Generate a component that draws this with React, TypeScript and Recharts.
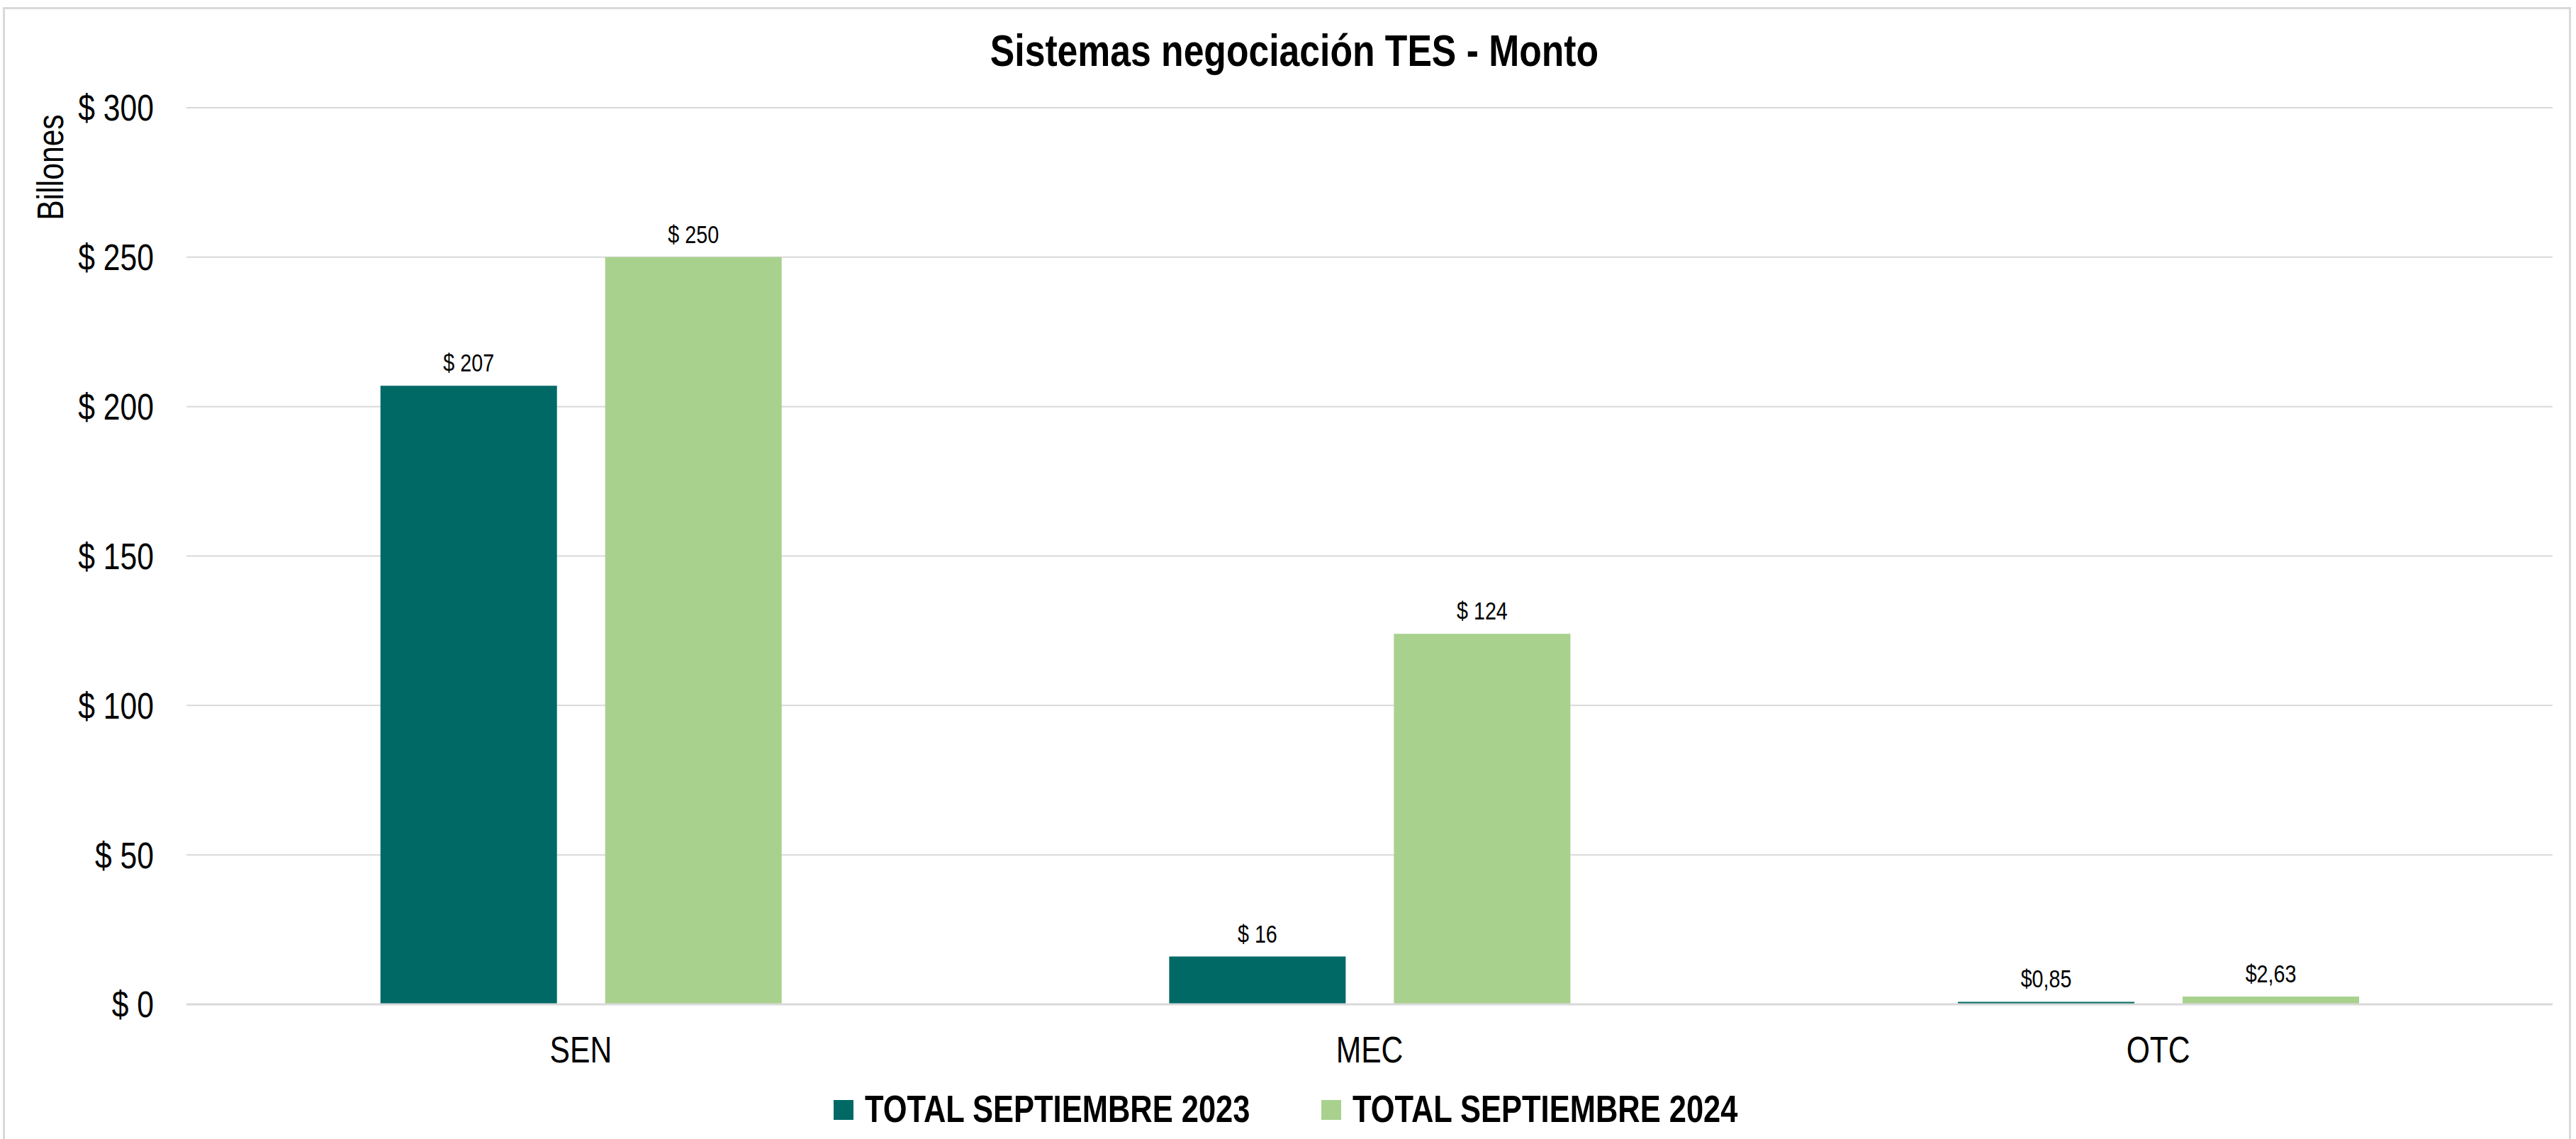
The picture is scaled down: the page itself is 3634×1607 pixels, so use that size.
import {
  BarChart,
  Bar,
  XAxis,
  YAxis,
  CartesianGrid,
  LabelList,
  Legend,
} from "recharts"

// Datos del gráfico (billones de pesos)
const categorias = ["SEN", "MEC", "OTC"]
const total2023 = [207, 16, 0.85]
const total2024 = [250, 124, 2.63]
const etiquetas2023 = ["$ 207", "$ 16", "$0,85"]
const etiquetas2024 = ["$ 250", "$ 124", "$2,63"]
const ticksY = [0, 50, 100, 150, 200, 250, 300]
const nombreSerie2023 = "TOTAL SEPTIEMBRE 2023"
const nombreSerie2024 = "TOTAL SEPTIEMBRE 2024"

const data = categorias.map((c, i) => ({
  sistema: c,
  t2023: total2023[i],
  t2024: total2024[i],
  e2023: etiquetas2023[i],
  e2024: etiquetas2024[i],
}))

// no hay Arial Narrow instalada: se angosta la Liberation Sans
const FUENTE = '"Liberation Sans", Arial, sans-serif'
const ANGOSTO = 0.82
const VERDE_OSCURO = "#006966"
const VERDE_CLARO = "#A9D18E"
const GRIS = "#d9d9d9"

const TextoAngosto = ({ x, y, texto, size, anchor = "middle", dy = "0", bold = false }: any) => (
  <text
    transform={`translate(${x},${y}) scale(${ANGOSTO},1)`}
    textAnchor={anchor}
    dy={dy}
    fontSize={size}
    fontWeight={bold ? "bold" : "normal"}
    fontFamily={FUENTE}
    fill="#000"
  >
    {texto}
  </text>
)

const TickY = ({ x, y, payload }: any) => (
  <TextoAngosto x={x} y={y} texto={`$ ${payload.value}`} size={52} anchor="end" dy="0.355em" />
)

const TickX = ({ x, y, payload }: any) => (
  <TextoAngosto x={x} y={y} texto={payload.value} size={52} anchor="middle" dy="0.71em" />
)

const EtiquetaBarra = (props: any) => {
  const vb = props.viewBox || props
  return <TextoAngosto x={vb.x + vb.width / 2} y={vb.y - 20} texto={props.value} size={35} />
}

const Leyenda = ({ payload }: any) => (
  <div style={{ display: "flex", justifyContent: "center", alignItems: "flex-start", fontFamily: FUENTE }}>
    {(payload || []).map((entry: any, index: number) => (
      <div key={index} style={{ display: "flex", alignItems: "flex-start", marginRight: index === 0 ? 94 : 0 }}>
        <div style={{ width: 28, height: 28, background: entry.color, marginTop: 14, marginRight: 16 }} />
        <div style={{ width: 550, overflow: "visible" }}>
          <span
            style={{
              display: "inline-block",
              whiteSpace: "nowrap",
              fontSize: 53,
              fontWeight: "bold",
              lineHeight: "53px",
              color: "#000",
              transform: `scaleX(${ANGOSTO})`,
              transformOrigin: "left center",
            }}
          >
            {entry.value}
          </span>
        </div>
      </div>
    ))}
  </div>
)

const EtiquetaEje = ({ viewBox }: any) => {
  const cy = (viewBox?.y ?? 152) + 84
  return (
    <text
      transform={`translate(89,${cy}) rotate(-90) scale(${ANGOSTO},1)`}
      textAnchor="middle"
      fontSize={52}
      fontFamily={FUENTE}
      fill="#000"
    >
      Billones
    </text>
  )
}

export default function App() {
  return (
    <div style={{ position: "absolute", left: 0, top: 0, width: 3634, height: 1607, overflow: "hidden", background: "#fff" }}>
      <div
        style={{
          position: "absolute",
          left: 4,
          top: 10,
          width: 3623,
          height: 1620,
          border: `3px solid ${GRIS}`,
          boxSizing: "border-box",
        }}
      />
      <div
        style={{
          position: "absolute",
          left: 1826,
          top: 40,
          transform: `translateX(-50%) scaleX(${ANGOSTO})`,
          whiteSpace: "nowrap",
          fontFamily: FUENTE,
          fontSize: 63,
          fontWeight: "bold",
          lineHeight: "63px",
          color: "#000",
        }}
      >
        Sistemas negociación TES - Monto
      </div>
      <BarChart
        width={3634}
        height={1607}
        data={data}
        margin={{ top: 152, right: 33, bottom: 130, left: 0 }}
        barCategoryGap="24.6%"
        barGap={68}
        style={{ position: "absolute", left: 0, top: 0 }}
      >
        <CartesianGrid vertical={false} stroke={GRIS} strokeWidth={2} />
        <XAxis
          dataKey="sistema"
          height={60}
          axisLine={{ stroke: GRIS, strokeWidth: 3 }}
          tickLine={false}
          tickSize={0}
          tickMargin={45}
          tick={<TickX />}
        />
        <YAxis
          width={263}
          domain={[0, 300]}
          ticks={ticksY}
          axisLine={false}
          tickLine={false}
          tickSize={0}
          tickMargin={46}
          tick={<TickY />}
          label={<EtiquetaEje />}
        />
        <Legend
          verticalAlign="middle"
          align="center"
          wrapperStyle={{ top: 1538, left: 0, width: 3634 }}
          content={<Leyenda />}
        />
        <Bar dataKey="t2023" name={nombreSerie2023} fill={VERDE_OSCURO} isAnimationActive={false}>
          <LabelList dataKey="e2023" content={<EtiquetaBarra />} />
        </Bar>
        <Bar dataKey="t2024" name={nombreSerie2024} fill={VERDE_CLARO} isAnimationActive={false}>
          <LabelList dataKey="e2024" content={<EtiquetaBarra />} />
        </Bar>
      </BarChart>
    </div>
  )
}
